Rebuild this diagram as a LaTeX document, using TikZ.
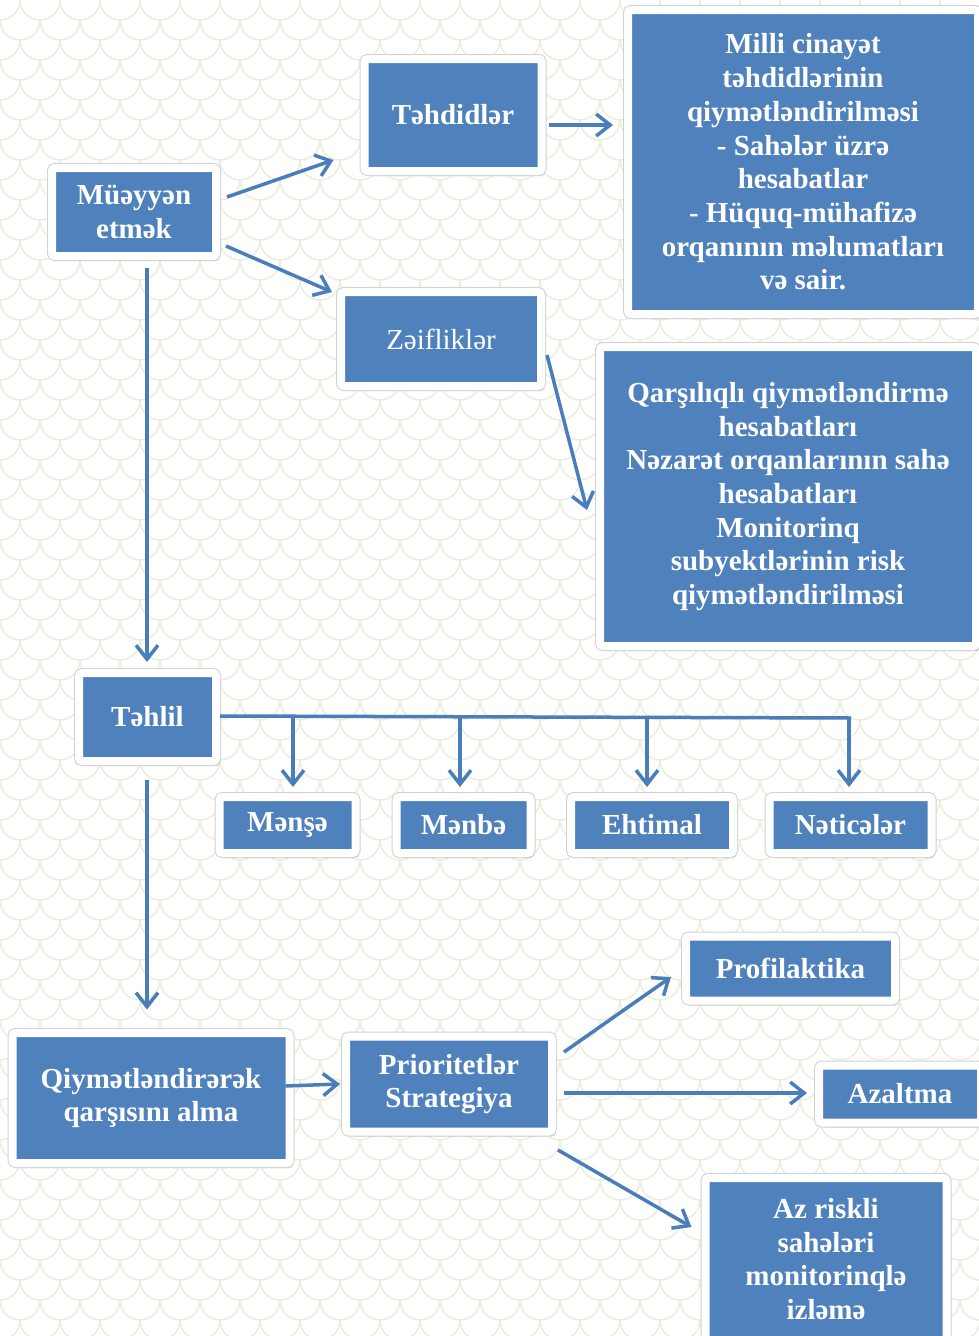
\documentclass[tikz,border=0pt]{standalone}
\usepackage{fontspec}
\setmainfont{Liberation Serif}
\usetikzlibrary{arrows.meta,shadows,calc}
\definecolor{boxblue}{RGB}{79,129,189}
\definecolor{lineblue}{RGB}{74,126,187}
\definecolor{patt}{RGB}{232,239,218}
\tikzset{
  box/.style={rectangle, fill=boxblue, draw=white, line width=8pt, rounded corners=3pt,
    inner sep=0pt, align=center, text=white,
    font=\bfseries\fontsize{29}{33.7}\selectfont,
    drop shadow={shadow xshift=0.5pt, shadow yshift=-1pt, opacity=0.18, fill=black},
    drop shadow={shadow xshift=2pt, shadow yshift=-3pt, opacity=0.2, fill=black},
    drop shadow={shadow xshift=3.5pt, shadow yshift=-5pt, opacity=0.12, fill=black},
    preaction={draw=black!18, line width=10pt}},
  thinfont/.style={font=\fontsize{29}{33.7}\selectfont},
  arr/.style={draw=lineblue, line width=3.5pt, -{Straight Barb[length=14pt,width=22pt]}},
  busline/.style={draw=lineblue, line width=3.5pt}
}
\begin{document}
\begin{tikzpicture}[x=1pt,y=-1pt]
\useasboundingbox (0,0) rectangle (979,1336);
\fill[white] (0,0) rectangle (979,1336);
% background pattern
\begin{scope}
\clip (0,0) rectangle (979,1336);
\foreach \r in {0,...,68}{
  \pgfmathsetmacro{\off}{mod(\r,2)*20}
  \foreach \c in {-1,...,25}{
    \draw[patt, line width=1.4pt] ({\c*40+\off-20},{\r*20}) arc[start angle=180, end angle=360, x radius=20, y radius=-20];
  }
}
\end{scope}
% boxes
\node[box, minimum width=164pt, minimum height=88pt] (mu) at (134,212) {Müəyyən\\etmək};
\node[box, minimum width=177pt, minimum height=112pt] (teh) at (453,115) {Təhdidlər};
\node[box, minimum width=350pt, minimum height=304pt] (mil) at (803,162) {Milli cinayət\\təhdidlərinin\\qiymətləndirilməsi\\- Sahələr üzrə\\hesabatlar\\- Hüquq-mühafizə\\orqanının məlumatları\\və sair.};
\node[box, thinfont, minimum width=200pt, minimum height=94pt] (zei) at (441,339) {Zəifliklər};
\node[box, minimum width=376pt, minimum height=299pt] (qar) at (788,496.5) {Qarşılıqlı qiymətləndirmə\\hesabatları\\Nəzarət orqanlarının sahə\\hesabatları\\Monitorinq\\subyektlərinin risk\\qiymətləndirilməsi};
\node[box, minimum width=137pt, minimum height=88pt] (tahlil) at (147.5,717) {Təhlil};
\node[box, minimum width=136pt, minimum height=56pt] (mense) at (287.5,825) {Mənşə};
\node[box, minimum width=134pt, minimum height=56pt] (menbe) at (463.5,825) {Mənbə};
\node[box, minimum width=162pt, minimum height=56pt] (ehtimal) at (652,825) {Ehtimal};
\node[box, minimum width=162pt, minimum height=56pt] (netice) at (850.5,825) {Nəticələr};
\node[box, minimum width=277pt, minimum height=130pt] (qiy) at (151,1098) {Qiymətləndirərək\\qarşısını alma};
\node[box, minimum width=206pt, minimum height=95pt] (pri) at (449,1084) {Prioritetlər\\Strategiya};
\node[box, minimum width=209pt, minimum height=64pt] (pro) at (790.5,968.5) {Profilaktika};
\node[box, minimum width=162pt, minimum height=57pt] (aza) at (900,1094) {Azaltma};
\node[box, minimum width=241pt, minimum height=162pt] (azr) at (826,1259) {Az riskli\\sahələri\\monitorinqlə\\izləmə};
% connectors
\draw[arr] ([shift={(7,-15)}]mu.east) -- ([shift={(-27,45)}]teh.west);
\draw[arr] ([shift={(6,34)}]mu.east) -- ([shift={(-5,-47)}]zei.west);
\draw[arr] ([shift={(3,10)}]teh.east) -- ([shift={(-11,-37)}]mil.west);
\draw[arr] ([shift={(2,16)}]zei.east) -- ([shift={(-9,13.5)}]qar.west);
\draw[arr] ([shift={(13,8)}]mu.south) -- ([shift={(-0.5,-7)}]tahlil.north);
\draw[arr] ([shift={(-0.5,15)}]tahlil.south) -- ([shift={(-4,-19.5)}]qiy.north);
\draw[arr] ([shift={(-8,-12)}]qiy.east) -- ([shift={(-2,0)}]pri.west);
\draw[arr] ([shift={(8,-32)}]pri.east) -- ([shift={(-11,8.5)}]pro.west);
\draw[arr] ([shift={(8,9)}]pri.east) -- ([shift={(-8,-1)}]aza.west);
\draw[arr] ([shift={(2,14.5)}]pri.south east) -- ([shift={(-10,-32)}]azr.west);
% bus
\coordinate (bus) at (851,718);
\draw[busline] ([yshift=1pt]tahlil.east) -- (bus);
\coordinate (t1) at ($(mense.north)+(5.5,-6)$);
\coordinate (t2) at ($(menbe.north)+(-3.5,-6)$);
\coordinate (t3) at ($(ehtimal.north)+(-5,-6)$);
\coordinate (t4) at ($(netice.north)+(-1.5,-6)$);
\draw[arr] (t1 |- bus) -- (t1);
\draw[arr] (t2 |- bus) -- (t2);
\draw[arr] (t3 |- bus) -- (t3);
\draw[arr] (t4 |- bus) -- (t4);
\end{tikzpicture}
\end{document}
